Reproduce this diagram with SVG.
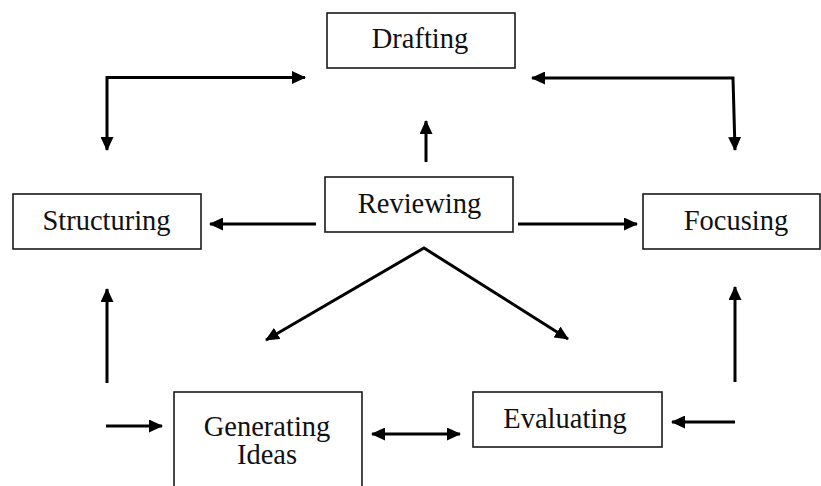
<svg xmlns="http://www.w3.org/2000/svg" width="821" height="486" viewBox="0 0 821 486">
<style>
.box{fill:#fff;stroke:#1a1a1a;stroke-width:1.6}
.lbl{font-family:"Liberation Serif","Times New Roman",serif;font-size:28.5px;fill:#111;text-anchor:middle}
.conn{fill:none;stroke:#000;stroke-width:3}
</style>
<defs>
<marker id="ah" markerUnits="userSpaceOnUse" markerWidth="14" markerHeight="13" refX="13" refY="6.5" orient="auto-start-reverse">
<path d="M0,0 L14,6.5 L0,13 z" fill="#000"/>
</marker>
</defs>
<rect width="821" height="486" fill="#fff"/>
<g id="drafting"><rect class="box" x="327" y="13" width="188" height="55"/><text class="lbl" x="420" y="48">Drafting</text></g>
<g id="reviewing"><rect class="box" x="325" y="177" width="188" height="55"/><text class="lbl" x="419.5" y="213">Reviewing</text></g>
<g id="structuring"><rect class="box" x="13" y="194" width="188" height="55"/><text class="lbl" x="106.5" y="230">Structuring</text></g>
<g id="focusing"><rect class="box" x="643" y="194" width="177" height="55"/><text class="lbl" x="736" y="230">Focusing</text></g>
<g id="generating"><rect class="box" x="174" y="392" width="188" height="100"/><text class="lbl" x="267" y="436">Generating</text><text class="lbl" x="267" y="464">Ideas</text></g>
<g id="evaluating"><rect class="box" x="473" y="392" width="189" height="55"/><text class="lbl" x="565" y="428">Evaluating</text></g>
<g id="connectors">
<path class="conn" d="M107,150 V77.5 H305" marker-start="url(#ah)" marker-end="url(#ah)"/>
<path class="conn" d="M532,78 H733 L735,150" marker-start="url(#ah)" marker-end="url(#ah)"/>
<path class="conn" d="M426,162 V121" marker-end="url(#ah)"/>
<path class="conn" d="M316,224 H210" marker-end="url(#ah)"/>
<path class="conn" d="M518,224 H637" marker-end="url(#ah)"/>
<path class="conn" d="M266,340 L424,248 L568,339" marker-start="url(#ah)" marker-end="url(#ah)"/>
<path class="conn" d="M107,383 V289" marker-end="url(#ah)"/>
<path class="conn" d="M106,426 H162" marker-end="url(#ah)"/>
<path class="conn" d="M372,434 H460" marker-start="url(#ah)" marker-end="url(#ah)"/>
<path class="conn" d="M735,422 H672" marker-end="url(#ah)"/>
<path class="conn" d="M735,382 V287" marker-end="url(#ah)"/>
</g>
</svg>
